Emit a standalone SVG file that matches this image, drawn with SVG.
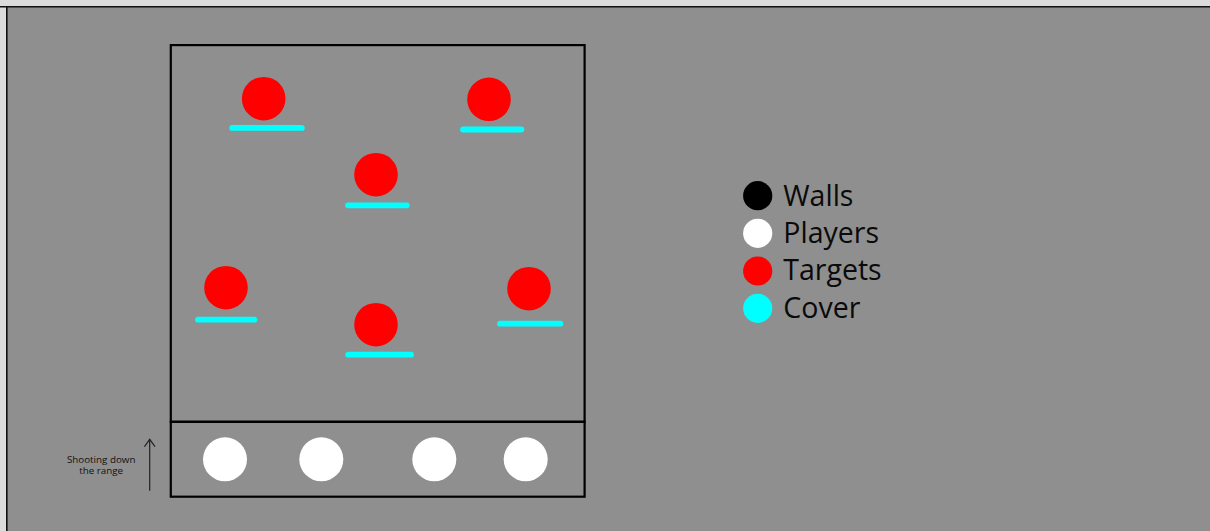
<svg xmlns="http://www.w3.org/2000/svg" width="1210" height="531" viewBox="0 0 1210 531">
<style>
.wall{fill:none;stroke:#000;stroke-width:2.2}
.target{fill:#ff0000}
.cover{stroke:#00ffff;stroke-width:5.8;stroke-linecap:round}
.player{fill:#fff}
.legend{font-family:"Open Sans","Liberation Sans",sans-serif;font-size:28.5px;fill:#0a0a0a}
.note{font-family:"Open Sans","Liberation Sans",sans-serif;font-size:9.8px;fill:#111}
</style>
<defs>
<marker id="chev" viewBox="0 0 10 12" refX="9" refY="6" markerWidth="10" markerHeight="12" markerUnits="userSpaceOnUse" orient="auto">
<polyline points="1.6,0.7 9,6 1.6,11.3" fill="none" stroke="#222" stroke-width="1.2"/>
</marker>
</defs>
<rect x="0" y="0" width="1210" height="531" fill="#dcdcdc"/>
<rect x="7" y="7" width="1203" height="524" fill="#8f8f8f"/>
<line x1="0" y1="6.8" x2="1210" y2="6.8" stroke="#111" stroke-width="1.6"/>
<line x1="6.8" y1="6" x2="6.8" y2="531" stroke="#111" stroke-width="1.6"/>
<g id="range">
<rect class="wall" x="170.8" y="45.1" width="413.8" height="376.7"/>
<rect class="wall" x="170.8" y="421.8" width="413.8" height="74.9"/>
</g>
<g id="target1"><circle class="target" cx="263.7" cy="98.7" r="21.8"/><line class="cover" x1="232.2" y1="127.9" x2="301.8" y2="127.9"/></g>
<g id="target2"><circle class="target" cx="489" cy="99.3" r="21.8"/><line class="cover" x1="463" y1="129.5" x2="521.4" y2="129.5"/></g>
<g id="target3"><circle class="target" cx="376" cy="174.7" r="21.8"/><line class="cover" x1="348" y1="205.3" x2="406.8" y2="205.3"/></g>
<g id="target4"><circle class="target" cx="226" cy="287.7" r="21.8"/><line class="cover" x1="198" y1="319.7" x2="254.4" y2="319.7"/></g>
<g id="target5"><circle class="target" cx="376" cy="324.7" r="21.8"/><line class="cover" x1="348.3" y1="354.7" x2="411" y2="354.7"/></g>
<g id="target6"><circle class="target" cx="529" cy="288.7" r="21.8"/><line class="cover" x1="500" y1="323.7" x2="560.4" y2="323.7"/></g>
<g id="player1"><circle class="player" cx="225" cy="459.3" r="22"/></g>
<g id="player2"><circle class="player" cx="321.3" cy="459.3" r="22"/></g>
<g id="player3"><circle class="player" cx="434.3" cy="459.3" r="22"/></g>
<g id="player4"><circle class="player" cx="525.7" cy="459.3" r="22"/></g>
<g id="connectors">
<line x1="149.7" y1="490.7" x2="149.7" y2="439.3" stroke="#222" stroke-width="1.2" marker-end="url(#chev)"/>
</g>
<g id="note">
<text class="note" x="101.2" y="462.7" text-anchor="middle">Shooting down</text>
<text class="note" x="101.2" y="474.2" text-anchor="middle">the range</text>
</g>
<g id="legend">
<circle cx="757.7" cy="195.7" r="14.6" fill="#000"/>
<text class="legend" x="783.3" y="205.7">Walls</text>
<circle cx="757.7" cy="233.3" r="14.6" fill="#fff"/>
<text class="legend" x="783.3" y="243">Players</text>
<circle cx="757.7" cy="271" r="14.6" fill="#ff0000"/>
<text class="legend" x="783.3" y="280.3">Targets</text>
<circle cx="757.7" cy="308.3" r="14.6" fill="#00ffff"/>
<text class="legend" x="783.3" y="318.3">Cover</text>
</g>
</svg>
